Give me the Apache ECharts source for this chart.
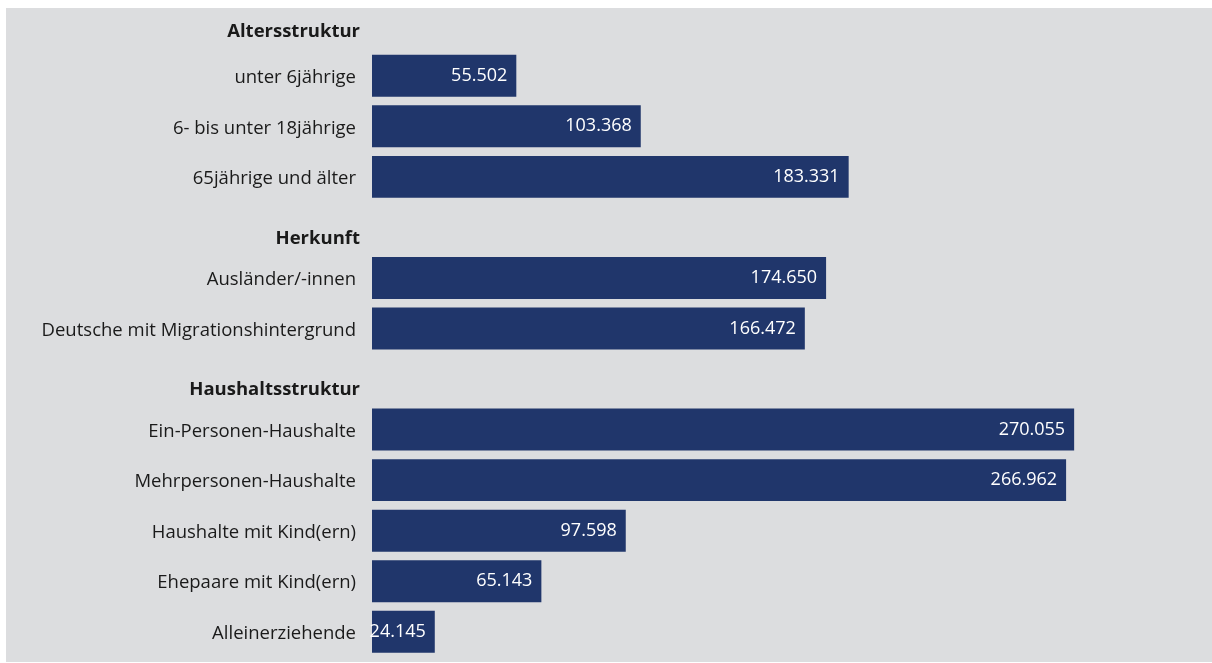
<!DOCTYPE html>
<html>
<head>
<meta charset="utf-8">
<script src="https://cdn.jsdelivr.net/npm/echarts@6/dist/echarts.min.js"></script>
<style>
    html, body { margin: 0; padding: 0; background: #ffffff; }
    #bg { position: absolute; left: 6px; top: 8px; width: 1206px; height: 654px; background: #dcdddf; }
    #chart { position: absolute; left: 0; top: 0; width: 1212px; height: 663px; }
</style>
</head>
<body>
<div id="bg"></div>
<div id="chart"></div>
<script>
// Kategorien von oben nach unten; Überschriften haben keinen Wert
const categories = [
    'Altersstruktur',
    'unter 6jährige',
    '6- bis unter 18jährige',
    '65jährige und älter',
    'Herkunft',
    'Ausländer/-innen',
    'Deutsche mit Migrationshintergrund',
    'Haushaltsstruktur',
    'Ein-Personen-Haushalte',
    'Mehrpersonen-Haushalte',
    'Haushalte mit Kind(ern)',
    'Ehepaare mit Kind(ern)',
    'Alleinerziehende'
]
const values = [null, 55502, 103368, 183331, null, 174650, 166472, null, 270055, 266962, 97598, 65143, 24145]
// Überschriften (fett) und ihr Versatz nach unten
const headers = { 'Altersstruktur': 'h0', 'Herkunft': 'h1', 'Haushaltsstruktur': 'h2' }

const fontFamily = '"Open Sans", "Noto Sans", sans-serif'
const fontSize = 18.5
const chart = echarts.init(document.getElementById('chart'))

// deutsches Zahlenformat: 55.502
const fmt = v => String(v).replace(/\B(?=(\d{3})+(?!\d))/g, '.')

const head = pad => ({ fontWeight: 'bold', fontSize: fontSize, fontFamily: fontFamily, color: '#1a1a1a', padding: [pad, 0, 0, 0] })

const option = {
    animation: false,
    grid: {
        top: 0,
        bottom: 6,
        left: 372,
        right: 60,
    },
    xAxis: {
        type: 'value',
        min: 0,
        max: 300000,
        show: false,
    },
    yAxis: {
        type: 'category',
        inverse: true,
        data: categories,
        axisLine: { show: false },
        axisTick: { show: false },
        splitLine: { show: false },
        axisLabel: {
            margin: 12,
            color: '#1a1a1a',
            fontSize: fontSize,
            fontFamily: fontFamily,
            formatter: v => headers[v] ? '{' + headers[v] + '|' + v + '}' : '{n|' + v + '}',
            rich: {
                n: { fontSize: fontSize, fontFamily: fontFamily, color: '#1a1a1a', padding: [4, 4, 0, 0] },
                h0: head(12),
                h1: head(22),
                h2: head(22),
            },
        },
    },
    series: [
        {
            type: 'bar',
            data: values,
            barCategoryGap: '17%',
            itemStyle: { color: '#20366b' },
            label: {
                show: true,
                position: 'insideRight',
                distance: 9,
                color: '#ffffff',
                fontSize: 18,
                fontFamily: fontFamily,
                formatter: p => fmt(p.value),
            },
        },
    ],
}
chart.setOption(option)
window.addEventListener('resize', () => chart.resize())
</script>
</body>
</html>
